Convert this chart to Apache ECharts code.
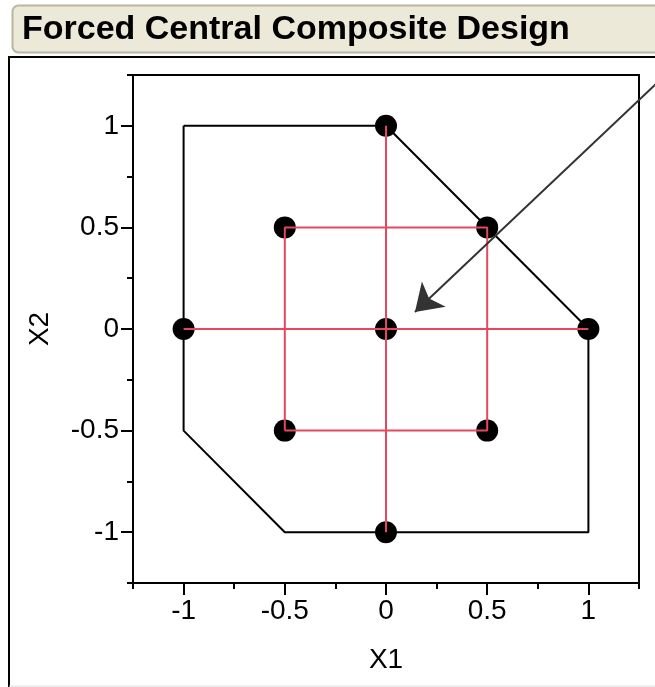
<!DOCTYPE html>
<html>
<head>
<meta charset="utf-8">
<script src="https://cdn.jsdelivr.net/npm/echarts@6/dist/echarts.min.js"></script>
<style>html,body{margin:0;padding:0;background:#fff;}#c{width:655px;height:687px;}</style>
</head>
<body>
<div id="c"></div>
<script>
const titleText = 'Forced Central Composite Design';
const xName = 'X1';
const yName = 'X2';
const majorTicks = [-1, -0.5, 0, 0.5, 1];
const minorTicks = [-1.25, -0.75, -0.25, 0.25, 0.75, 1.25];
const designPoints = [[-1,0],[1,0],[0,-1],[0,1],[-0.5,-0.5],[-0.5,0.5],[0.5,-0.5],[0.5,0.5],[0,0]];
const regionX = [-1, 0, 1, 1, -0.5, -1, -1];
const regionY = [1, 1, 0, -1, -1, -0.5, 1];
const crossH = [[-1,0],[1,0]];
const crossV = [[0,-1],[0,1]];
const squareX = [-0.5, 0.5, 0.5, -0.5, -0.5];
const squareY = [-0.5, -0.5, 0.5, 0.5, -0.5];
const arrowFrom = [1.334, 1.206];
const arrowTo = [0.143, 0.084];

const font = 'Liberation Sans, Arial, Helvetica, sans-serif';
const chart = echarts.init(document.getElementById('c'), null, {renderer:'canvas'});
const axisBase = (values, isMajor) => ({
  min: -1.25, max: 1.25,
  axisLine: {show: isMajor, onZero: false, lineStyle: {color: '#000', width: 2}},
  axisTick: {show: true, customValues: values, length: isMajor ? 12 : 6, lineStyle: {color: '#000', width: 2}},
  axisLabel: isMajor ? {show: true, customValues: values, color: '#000', fontSize: 28, fontFamily: font, margin: 14} : {show: false},
  splitLine: {show: false}
});
const xa = Object.assign(axisBase(majorTicks, true), {type: 'value', position: 'bottom', name: xName, nameLocation: 'middle', nameGap: 77, nameTextStyle: {color: '#000', fontSize: 28, fontFamily: font, verticalAlign: 'middle'}});
const xb = Object.assign(axisBase(minorTicks, false), {type: 'value', position: 'bottom'});
const ya = Object.assign(axisBase(majorTicks, true), {type: 'value', position: 'left', name: yName, nameLocation: 'middle', nameGap: 93, nameTextStyle: {color: '#000', fontSize: 28, fontFamily: font, verticalAlign: 'middle'}});
const yb = Object.assign(axisBase(minorTicks, false), {type: 'value', position: 'left'});

chart.setOption({
  animation: false,
  backgroundColor: '#fff',
  grid: {left: 133, top: 75, width: 506, height: 508, show: true, borderColor: '#000', borderWidth: 2, backgroundColor: '#fff'},
  xAxis: [xa, xb],
  yAxis: [ya, yb],
  graphic: [
    {type: 'rect', shape: {x: 12.5, y: 5.5, width: 680, height: 47, r: 6}, style: {fill: '#ECE9D8', stroke: '#B8B5A2', lineWidth: 2}},
    {type: 'text', x: 22, y: 30, style: {text: titleText, fill: '#000', font: 'bold 34px ' + font, textVerticalAlign: 'middle'}},
    {type: 'polyline', shape: {points: [[9, 687], [9, 57], [660, 57]]}, style: {stroke: '#000', lineWidth: 2, fill: null}},
    {type: 'line', shape: {x1: 9, y1: 686, x2: 660, y2: 686}, style: {stroke: '#ddd', lineWidth: 1}}
  ],
  series: [
    {type: 'line', z: 1, data: regionX.map((x, i) => [x, regionY[i]]), symbol: 'none', lineStyle: {color: '#000', width: 2}},
    {type: 'scatter', z: 2, data: designPoints, symbolSize: 22, itemStyle: {color: '#000', opacity: 1}},
    {type: 'line', z: 3, data: crossH, symbol: 'none', lineStyle: {color: '#E5485C', width: 2}},
    {type: 'line', z: 3, data: crossV, symbol: 'none', lineStyle: {color: '#E5485C', width: 2}},
    {type: 'line', z: 3, data: squareX.map((x, i) => [x, squareY[i]]), symbol: 'none', lineStyle: {color: '#E5485C', width: 2}},
    {type: 'lines', z: 4, coordinateSystem: 'cartesian2d', clip: false, data: [{coords: [arrowFrom, arrowTo]}], symbol: ['none', 'arrow'], symbolSize: 26, lineStyle: {color: '#333', width: 2, opacity: 1}, itemStyle: {color: '#333'}}
  ]
});
</script>
</body>
</html>
